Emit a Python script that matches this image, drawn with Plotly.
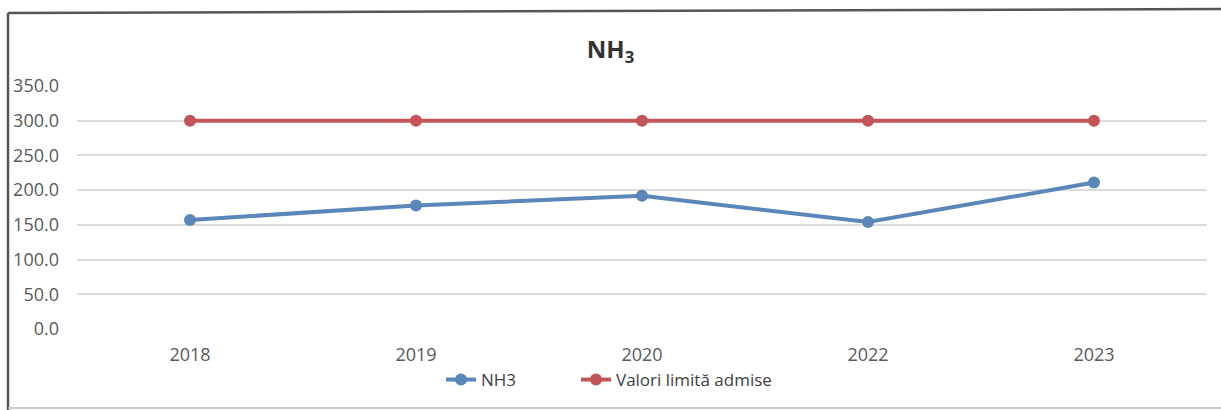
import plotly.graph_objects as go

years = ["2018", "2019", "2020", "2022", "2023"]
nh3 = [157.0, 178.0, 192.0, 154.0, 211.0]
limit = [300.0, 300.0, 300.0, 300.0, 300.0]
y_ticks = [0, 50, 100, 150, 200, 250, 300, 350]
y_tick_labels = ["0.0", "50.0", "100.0", "150.0", "200.0", "250.0", "300.0", "350.0"]

W, H = 1221, 410
ML, MR, MT, MB = 77, 14, 86, 81
pw = W - ML - MR
ph = H - MT - MB

def px(p):
    return (p - ML) / pw

def py(q):
    return (H - MB - q) / ph

fig = go.Figure()
fig.add_trace(go.Scatter(
    x=years, y=nh3, name="NH3", mode="lines+markers",
    line=dict(color="#5a86ba", width=4),
    marker=dict(color="#5a86ba", size=12),
    legend="legend",
))
fig.add_trace(go.Scatter(
    x=years, y=limit, name="Valori limită admise", mode="lines+markers",
    line=dict(color="#c2545a", width=4),
    marker=dict(color="#c2545a", size=12),
    legend="legend2",
))

legend_style = dict(orientation="h", xanchor="left", y=py(380), yanchor="middle",
                    font=dict(size=17, color="#404040"), bgcolor="rgba(0,0,0,0)")

fig.update_layout(
    width=W, height=H,
    margin=dict(l=ML, r=MR, t=MT, b=MB, autoexpand=False),
    paper_bgcolor="white", plot_bgcolor="white",
    font=dict(family="Open Sans, Liberation Sans, sans-serif", color="#595959", size=13),
    title=dict(text="<b>NH<sub>3</sub></b>", x=0.5, xanchor="center",
               y=1 - 50 / H, yanchor="middle",
               font=dict(size=24, color="#333333")),
    showlegend=True,
    legend=dict(x=px(441), **legend_style),
    legend2=dict(x=px(576), **legend_style),
    xaxis=dict(range=[-0.5, 4.5], showgrid=False, zeroline=False, showline=False,
               tickfont=dict(size=18, color="#595959"), ticklabelstandoff=13,
               automargin=False, fixedrange=True),
    yaxis=dict(range=[0, 350], tickvals=y_ticks, ticktext=y_tick_labels,
               showgrid=True, gridcolor="#dcdcdc", gridwidth=1.5,
               zeroline=False, showline=False,
               tickfont=dict(size=18, color="#595959"), ticklabelstandoff=17,
               automargin=False, fixedrange=True),
    shapes=[
        dict(type="line", xref="paper", yref="paper", x0=px(8), x1=px(1221), y0=py(13), y1=py(9),
             line=dict(color="#555555", width=2.5)),
        dict(type="line", xref="paper", yref="paper", x0=px(8), x1=px(8), y0=py(13), y1=py(410),
             line=dict(color="#555555", width=2.5)),
        dict(type="line", xref="paper", yref="paper", x0=px(8), x1=px(1221), y0=py(408), y1=py(408),
             line=dict(color="#bbbbbb", width=1.5)),
    ],
)

fig.write_html("out.html", config={"displayModeBar": False},
               post_script="document.body.style.margin='0';document.body.style.overflow='hidden';")
